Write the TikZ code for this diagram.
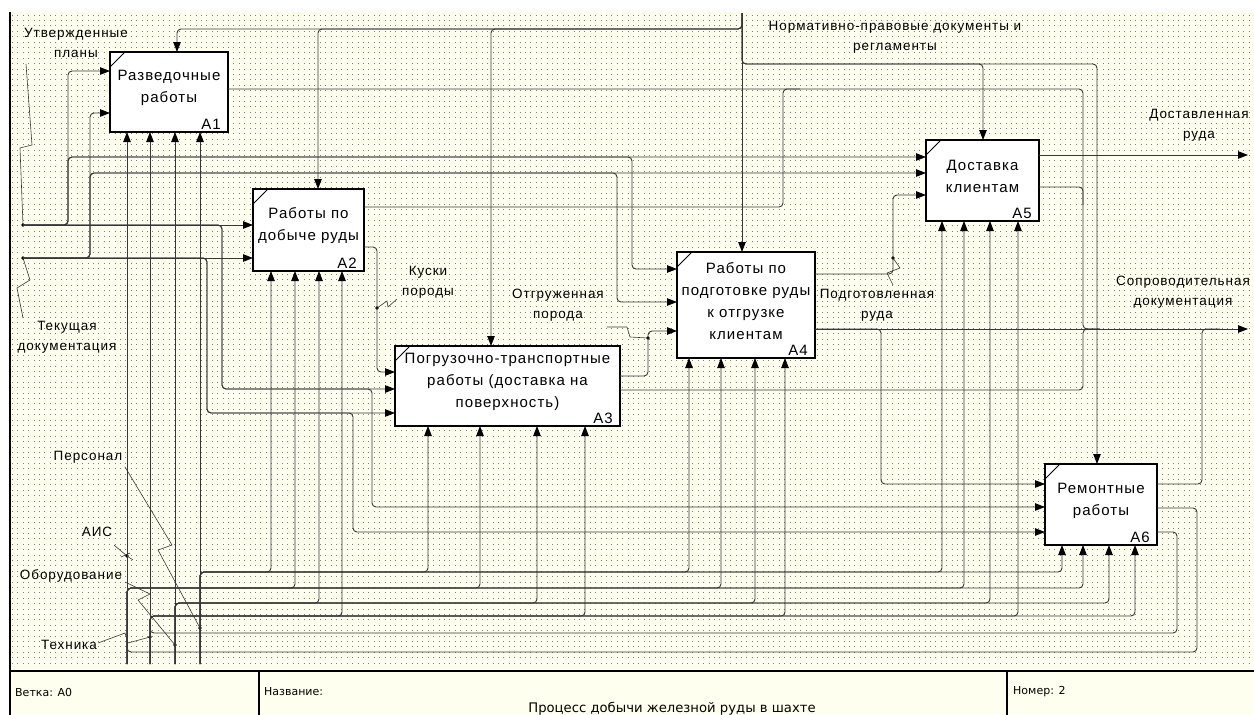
\documentclass[tikz,border=0pt]{standalone}
\usepackage{fontspec}
\setmainfont{Liberation Sans}
\newfontfamily\lsf[LetterSpace=7]{Liberation Sans}
\newfontfamily\ftf{DejaVu Sans}
\usetikzlibrary{arrows.meta}
\definecolor{bgc}{RGB}{255,255,240}
\definecolor{dotc}{RGB}{125,125,125}
\definecolor{lc}{RGB}{55,55,55}
\begin{document}
\begin{tikzpicture}[x=1pt,y=-1pt,
 conn/.style={draw=lc,line width=0.9pt,rounded corners=4pt},
 arr/.style={conn,-{Triangle[length=10pt,width=7.5pt,color=black]}},
 lead/.style={draw=lc,line width=0.6pt},
 box/.style={draw=black,line width=1.3pt,fill=white,anchor=north west,inner sep=0pt,outer sep=0pt},
 btxt/.style={font=\lsf\fontsize{15}{22}\selectfont,align=center,inner sep=0pt},
 bnum/.style={font=\lsf\fontsize{15}{18}\selectfont,inner sep=0pt,anchor=base east},
 lbl/.style={font=\lsf\fontsize{13.5}{20}\selectfont,align=center,inner sep=0pt},
 ft/.style={font=\ftf\fontsize{11}{13}\selectfont,inner sep=0pt,anchor=west},
 dotm/.style={fill=black}
]
\useasboundingbox (0,0) rectangle (1254,715);
\fill[white] (0,0) rectangle (1254,715);
\fill[bgc] (10,12) rectangle (1254,715);
\foreach \i in {0,...,120} \draw[dotc,line width=1pt,dash pattern=on 1pt off 4.4pt] (12,{15+\i*5.4}) -- (1254,{15+\i*5.4});
% frame
\draw[black,line width=1.2pt] (10,12) -- (10,715);
\draw[black,line width=1.4pt] (10,671) -- (1254,671);
\draw[black,line width=1.2pt] (259,671) -- (259,715);
\draw[black,line width=1.2pt] (1007,671) -- (1007,715);
\node[ft] (fv) at (15,692) {Ветка: A0};
\node[ft] (fn) at (264,692) {Название:};
\node[ft] (fnum) at (1013,692) {Номер: 2};
\node[font=\ftf\fontsize{13.2}{15}\selectfont,inner sep=0pt,anchor=north] (ftitle) at (672,702) {Процесс добычи железной руды в шахте};

% boxes
\node[box,minimum width=118pt,minimum height=80pt] (a1) at (110,52) {};
\node[box,minimum width=111pt,minimum height=82pt] (a2) at (253,189) {};
\node[box,minimum width=225pt,minimum height=80pt] (a3) at (395,346) {};
\node[box,minimum width=138pt,minimum height=106pt] (a4) at (677,252) {};
\node[box,minimum width=113pt,minimum height=81pt] (a5) at (926,140) {};
\node[box,minimum width=112pt,minimum height=81pt] (a6) at (1045,464) {};
\foreach \b in {a1,a2,a3,a4,a5,a6} \draw[black,line width=0.8pt] ([yshift=-15pt]\b.north west) -- ([xshift=15pt]\b.north west);
\node[btxt] (a1t) at ([yshift=4pt]a1.center) {Разведочные\\работы};
\node[btxt] (a2t) at ([yshift=4pt]a2.center) {Работы по\\добыче руды};
\node[btxt] (a3t) at ([yshift=4pt]a3.center) {Погрузочно-транспортные\\работы (доставка на\\поверхность)};
\node[btxt] (a4t) at ([yshift=4pt]a4.center) {Работы по\\подготовке руды\\к отгрузке\\клиентам};
\node[btxt] (a5t) at ([yshift=4pt]a5.center) {Доставка\\клиентам};
\node[btxt] (a6t) at ([yshift=4pt]a6.center) {Ремонтные\\работы};
\node[bnum] (a1n) at ([xshift=-7pt,yshift=3pt]a1.south east) {A1};
\node[bnum] (a2n) at ([xshift=-7pt,yshift=3pt]a2.south east) {A2};
\node[bnum] (a3n) at ([xshift=-7pt,yshift=3pt]a3.south east) {A3};
\node[bnum] (a4n) at ([xshift=-7pt,yshift=3pt]a4.south east) {A4};
\node[bnum] (a5n) at ([xshift=-7pt,yshift=3pt]a5.south east) {A5};
\node[bnum] (a6n) at ([xshift=-7pt,yshift=3pt]a6.south east) {A6};

% labels
\node[lbl] (l1) at (76,43) {Утвержденные\\планы};
\node[lbl] (l0) at (895,37) {Нормативно-правовые документы и\\регламенты};
\node[lbl] (lo1) at (1199,125) {Доставленная\\руда};
\node[lbl] (l3) at (428,282) {Куски\\породы};
\node[lbl] (l4) at (558,305) {Отгруженная\\порода};
\node[lbl] (l5) at (877,305) {Подготовленная\\руда};
\node[lbl] (lo2) at (1183,292) {Сопроводительная\\документация};
\node[lbl] (l2) at (67,337) {Текущая\\документация};
\node[lbl] (l6) at (88,457) {Персонал};
\node[lbl] (l7) at (97,532) {АИС};
\node[lbl] (l8) at (71,576) {Оборудование};
\node[lbl] (l9) at (69,645) {Техника};

% coordinates
\coordinate (d1) at (23,225);
\coordinate (d2) at (23,258);
\coordinate (d3) at (377,308);
\coordinate (d4) at (648,338);
\coordinate (d5) at (893,258);
\coordinate (d6) at (200,628);
\coordinate (d7) at (127,556);
\coordinate (d8) at (175,645);
\coordinate (d9) at (150,637);
\coordinate (ctop) at (742,13);
\coordinate (o1) at (1248,329);
\coordinate (o2) at (1248,155);
\coordinate (m1) at (127,664);
\coordinate (m2) at (150,664);
\coordinate (m3) at (175,664);
\coordinate (m4) at (200,664);

% leaders
\draw[lead] (26,64) -- (32,145) -- (20,148) -- (d1);
\draw[lead] (d2) -- (30,280) -- (17,288) -- (23,318);
\draw[lead] (d3) -- (387,301) -- (388,307) -- (397,299);
\draw[lead] (607,327) -- (627,327) -- (630,337) -- (d4);
\draw[lead] (d5) -- (900,268) -- (887,273) -- (893,285);
\draw[lead] (125,467) -- (172,545) -- (158,550) -- (d6);
\draw[lead] (114,545) -- (d7) -- (133,560);
\draw[lead] (121,557) -- (130,553);
\draw[lead] (125,582) -- (150,594) -- (138,600) -- (d8);
\draw[lead] (98,643) -- (125,633) -- (128,643) -- (d9);
\foreach \d in {d1,d2,d3,d4,d5,d6,d7,d8,d9} \fill[dotm] (\d) circle (1.8pt);

% inputs
\draw[arr] (d1) -- (a2.west |- d1);
\draw[arr] (d1) -- (68,225) -- (68,71) -- (a1.west |- 0,71);
\draw[arr] (d1) -- (68,225) -- (68,157) -- (632,157) -- (632,269) -- (a4.west |- 0,269);
\draw[arr] (d1) -- (68,225) -- (68,157) -- (a5.west |- 0,157);
\draw[arr] (d1) -- (222,225) -- (222,389) -- (a3.west |- 0,389);
\draw[arr] (d1) -- (222,225) -- (222,389) -- (372,389) -- (372,507) -- (a6.west |- 0,507);
\draw[arr] (d2) -- (a2.west |- d2);
\draw[arr] (d2) -- (90,258) -- (90,113) -- (a1.west |- 0,113);
\draw[arr] (d2) -- (90,258) -- (90,173) -- (617,173) -- (617,302) -- (a4.west |- 0,302);
\draw[arr] (d2) -- (90,258) -- (90,173) -- (a5.west |- 0,173);
\draw[arr] (d2) -- (207,258) -- (207,413) -- (a3.west |- 0,413);
\draw[arr] (d2) -- (207,258) -- (207,413) -- (353,413) -- (353,532) -- (a6.west |- 0,532);

% controls
\draw[arr] (ctop) -- (ctop |- a4.north);
\draw[arr] (ctop) -- (742,29) -- (177,29) -- (177,0 |- a1.north);
\draw[arr] (ctop) -- (742,29) -- (318,29) -- (318,0 |- a2.north);
\draw[arr] (ctop) -- (742,29) -- (491,29) -- (491,0 |- a3.north);
\draw[arr] (ctop) -- (742,64) -- (983,64) -- (983,0 |- a5.north);
\draw[arr] (ctop) -- (742,64) -- (1097,64) -- (1097,0 |- a6.north);

% outputs
\draw[conn] (a1.east |- 0,89) -- (1083,89) -- (1083,329) -- (1100,329);
\draw[conn] (a2.east |- 0,207) -- (783,207) -- (783,89) -- (800,89);
\draw[arr] (a2.east |- 0,247) -- (377,247) -- (377,372) -- (a3.west |- 0,372);
\draw[arr] (a3.east |- 0,376) -- (648,376) -- (648,331) -- (a4.west |- 0,331);
\draw[conn] (a3.east |- 0,390) -- (1083,390) -- (1083,329) -- (1100,329);
\draw[arr] (a4.east |- 0,274) -- (893,274) -- (893,195) -- (a5.west |- 0,195);
\draw[arr] (a4.east |- o1) -- (o1);
\draw[arr] (a4.east |- o1) -- (881,329) -- (881,484) -- (a6.west |- 0,484);
\draw[arr] (a5.east |- o2) -- (o2);
\draw[conn] (a5.east |- 0,187) -- (1083,187) -- (1083,205);
\draw[conn] (a6.east |- 0,484) -- (1202,484) -- (1202,329) -- (1220,329);
\draw[conn] (a6.east |- 0,508) -- (1197,508) -- (1197,652) -- (127,652) -- (127,640);
\draw[conn] (a6.east |- 0,532) -- (1177,532) -- (1177,633) -- (150,633) -- (150,620);

% mechanisms
\draw[arr] (m1) -- (m1 |- a1.south);
\draw[arr] (m2) -- (m2 |- a1.south);
\draw[arr] (m3) -- (m3 |- a1.south);
\draw[arr] (m4) -- (m4 |- a1.south);
\foreach \x/\b in {295/a2,480/a3,721/a4,964/a5,1083/a6}
  \draw[arr] (m1) -- (127,588) -- (\x,588) -- (\x,0 |- \b.south);
\foreach \x/\b in {342/a2,585/a3,785/a4,1018/a5,1135/a6}
  \draw[arr] (m2) -- (150,616) -- (\x,616) -- (\x,0 |- \b.south);
\foreach \x/\b in {319/a2,537/a3,755/a4,990/a5,1109/a6}
  \draw[arr] (m3) -- (175,603) -- (\x,603) -- (\x,0 |- \b.south);
\foreach \x/\b in {271/a2,428/a3,689/a4,942/a5,1062/a6}
  \draw[arr] (m4) -- (200,572) -- (\x,572) -- (\x,0 |- \b.south);
\end{tikzpicture}
\end{document}
